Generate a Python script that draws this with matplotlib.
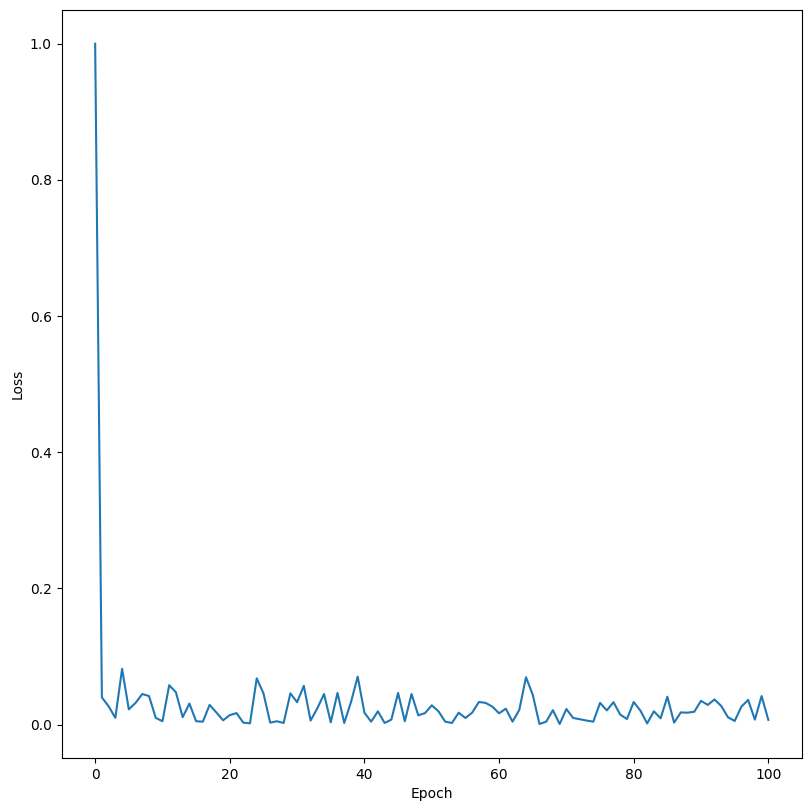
import matplotlib
matplotlib.use("Agg")
import matplotlib.pyplot as plt

epochs = list(range(101))
loss = [1.0, 0.040, 0.027, 0.010, 0.082, 0.0225, 0.032, 0.045, 0.042, 0.010,
        0.005, 0.058, 0.0475, 0.011, 0.031, 0.005, 0.0044, 0.029, 0.018, 0.0064,
        0.014, 0.017, 0.003, 0.002, 0.068, 0.046, 0.003, 0.005, 0.0025, 0.046,
        0.033, 0.057, 0.006, 0.024, 0.045, 0.0034, 0.0466, 0.0025, 0.033, 0.0706,
        0.0176, 0.0044, 0.0196, 0.0025, 0.0074, 0.0466, 0.005, 0.045, 0.0137, 0.017,
        0.0284, 0.0196, 0.0044, 0.0025, 0.0176, 0.0098, 0.0176, 0.0333, 0.032, 0.0265,
        0.0167, 0.0235, 0.0044, 0.0216, 0.0696, 0.044, 0.001, 0.0044, 0.0213, 0.001,
        0.023, 0.0098, 0.008, 0.006, 0.0044, 0.032, 0.021, 0.033, 0.0147, 0.0083,
        0.0333, 0.0206, 0.0018, 0.0196, 0.0093, 0.041, 0.003, 0.018, 0.0176, 0.019,
        0.035, 0.029, 0.037, 0.0275, 0.011, 0.0054, 0.0265, 0.0363, 0.0074, 0.042,
        0.007]

fig = plt.figure(figsize=(8.11, 8.11), dpi=100)
ax = fig.add_axes([61.5/811, 1-758/811, (802-61.5)/811, (758-9.7)/811])
ax.plot(epochs, loss, color="#1f77b4")
ax.set_xlabel("Epoch")
ax.set_ylabel("Loss")
fig.savefig("out.png", dpi=100)
